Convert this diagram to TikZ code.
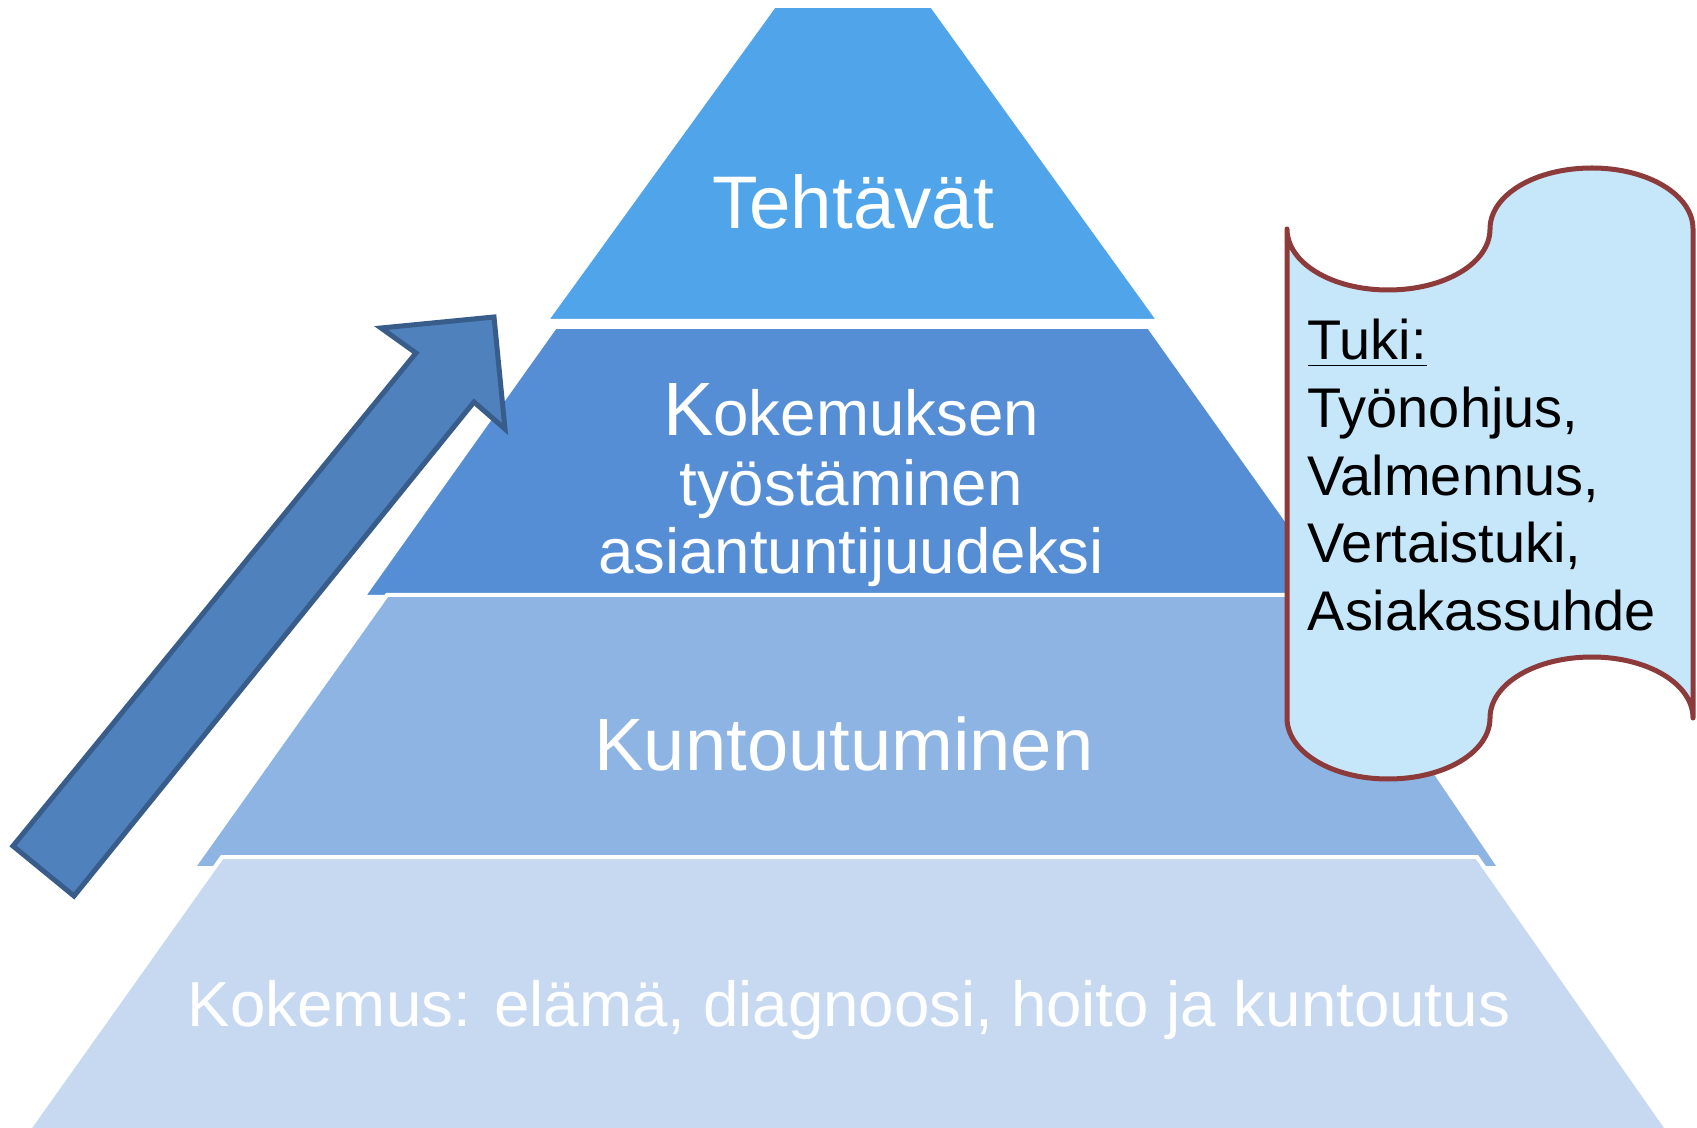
\documentclass[tikz,border=0pt]{standalone}
\usepackage{fontspec}
\setmainfont{Liberation Sans}
\definecolor{lay1}{RGB}{80,165,234}
\definecolor{lay2}{RGB}{85,142,213}
\definecolor{lay3}{RGB}{142,180,227}
\definecolor{lay4}{RGB}{198,217,241}
\definecolor{arrfill}{RGB}{79,129,189}
\definecolor{arrline}{RGB}{56,93,138}
\definecolor{scrfill}{RGB}{198,230,249}
\definecolor{scrline}{RGB}{140,58,58}
\begin{document}
\begin{tikzpicture}[x=0.01cm,y=-0.01cm,
  layer/.style={draw=white,line width=0.04cm,line join=miter},
  wtext/.style={text=white,anchor=base,inner sep=0pt},
  btext/.style={text=black,anchor=base west,inner sep=0pt,font=\fontsize{15.9}{18}\selectfont}]
\useasboundingbox[fill=white] (0,0) rectangle (1697,1128);
% pyramid layers
\path[layer,fill=lay1] (774,6) -- (932,6) -- (1159,321) -- (546,321) -- cycle;
\path[layer,fill=lay2] (555,327) -- (1149,327) -- (1341,597) -- (363,597) -- cycle;
\path[layer,fill=lay3] (387,595) -- (1315,595) -- (1500,868) -- (193,868) -- cycle;
\path[layer,fill=lay4] (222,857) -- (1477,857) -- (1675,1140) -- (21,1140) -- cycle;
% block arrow
\path[draw=arrline,fill=arrfill,line width=0.05cm,line join=miter]
  (13,846) -- (416,353) -- (381,328) -- (494,317) -- (505,429) -- (474,402) -- (74,896) -- cycle;
% scroll
\path[draw=scrline,fill=scrfill,line width=0.05cm,line join=round,line cap=round]
  (1287,229) -- (1287,718)
  .. controls (1287,752) and (1332,779) .. (1388,779)
  .. controls (1445,779) and (1490,752) .. (1490,718)
  .. controls (1490,684) and (1535,657) .. (1592,657)
  .. controls (1648,657) and (1693,684) .. (1693,718)
  -- (1693,229)
  .. controls (1693,195) and (1648,168) .. (1592,168)
  .. controls (1535,168) and (1490,195) .. (1490,229)
  .. controls (1490,263) and (1445,290) .. (1388,290)
  .. controls (1332,290) and (1287,263) .. (1287,229)
  -- cycle;
% texts
\node[wtext,font=\fontsize{21.2}{24}\selectfont] (t1) at (853,229) {Tehtävät};
\node[wtext,font=\fontsize{18.1}{21}\selectfont] (t2a) at (851,436) {{\fontsize{21.5}{24}\selectfont K}okemuksen};
\node[wtext,font=\fontsize{18.1}{21}\selectfont] (t2b) at (851,506) {työstäminen};
\node[wtext,font=\fontsize{18.1}{21}\selectfont] (t2c) at (851,574) {asiantuntijuudeksi};
\node[wtext,font=\fontsize{21.1}{24}\selectfont] (t3) at (844,771) {Kuntoutuminen};
\node[wtext,font=\fontsize{18.1}{21}\selectfont] (t4) at (849,1026) {Kokemus: elämä, diagnoosi, hoito ja kuntoutus};
\node[btext] (s0) at (1307,360) {\underline{Tuki:}};
\node[btext] (s1) at (1307,428) {Työnohjus,};
\node[btext] (s2) at (1307,496) {Valmennus,};
\node[btext] (s3) at (1307,563) {Vertaistuki,};
\node[btext] (s4) at (1307,630) {Asiakassuhde};
\end{tikzpicture}
\end{document}
